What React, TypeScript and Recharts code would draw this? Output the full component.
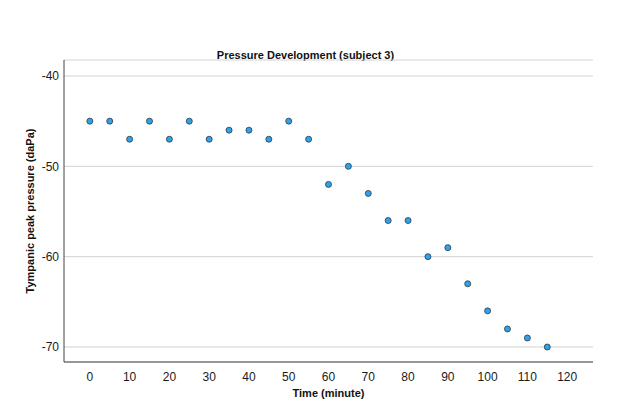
import * as React from "react"
import { CartesianGrid, Label, Scatter, ScatterChart, XAxis, YAxis } from "recharts"

// Tympanic peak pressure over time, subject 3

const minutes = [0, 5, 10, 15, 20, 25, 30, 35, 40, 45, 50, 55, 60, 65, 70, 75, 80, 85, 90, 95, 100, 105, 110, 115]
const pressure = [-45, -45, -47, -45, -47, -45, -47, -46, -46, -47, -45, -47, -52, -50, -53, -56, -56, -60, -59, -63, -66, -68, -69, -70]
const xTicks = [0, 10, 20, 30, 40, 50, 60, 70, 80, 90, 100, 110, 120]
const yTicks = [-70, -60, -50, -40]

const data = minutes.map((t, i) => ({ time: t, pressure: pressure[i] }))

const font = "'Liberation Sans', Arial, sans-serif"

function Dot(props: any) {
  const { cx, cy } = props
  if (cx == null || cy == null) return null
  return <circle cx={cx} cy={cy} r={3} fill="#32a2e8" stroke="#26384a" strokeWidth={0.8} />
}

export default function App() {
  return (
    <div style={{ position: "absolute", left: 0, top: 0, width: 624, height: 412, background: "#fff", fontFamily: font }}>
      <div
        style={{
          position: "absolute",
          left: 0,
          width: 611,
          top: 49,
          textAlign: "center",
          fontSize: 11,
          fontWeight: "bold",
          color: "#111",
        }}
      >
        Pressure Development (subject 3)
      </div>
      <ScatterChart width={624} height={412} margin={{ top: 60, right: 31, bottom: 0, left: 0 }}>
        <CartesianGrid vertical={false} stroke="#d2d2d2" strokeDasharray="" />
        <XAxis
          type="number"
          dataKey="time"
          domain={[-6.5, 126.5]}
          ticks={xTicks}
          allowDataOverflow
          tickLine={false}
          tickSize={0}
          tickMargin={10}
          height={50}
          stroke="#444"
          tick={{ fill: "#1a1a1a", fontSize: 12, fontFamily: font }}
        >
          <Label
            value="Time (minute)"
            position="center"
            dy={6}
            style={{ fontWeight: "bold", fontSize: 11, fill: "#111", fontFamily: font }}
          />
        </XAxis>
        <YAxis
          type="number"
          dataKey="pressure"
          domain={[-71.66, -38.23]}
          ticks={yTicks}
          allowDataOverflow
          tickLine={false}
          tickSize={0}
          tickMargin={5}
          width={64}
          stroke="#444"
          tick={{ fill: "#1a1a1a", fontSize: 12, fontFamily: font }}
        >
          <Label
            value="Tympanic peak pressure (daPa)"
            angle={-90}
            position="center"
            dx={-2}
            style={{ fontWeight: "bold", fontSize: 11, fill: "#111", fontFamily: font, textAnchor: "middle" }}
          />
        </YAxis>
        <Scatter data={data} shape={<Dot />} isAnimationActive={false} />
      </ScatterChart>
    </div>
  )
}
